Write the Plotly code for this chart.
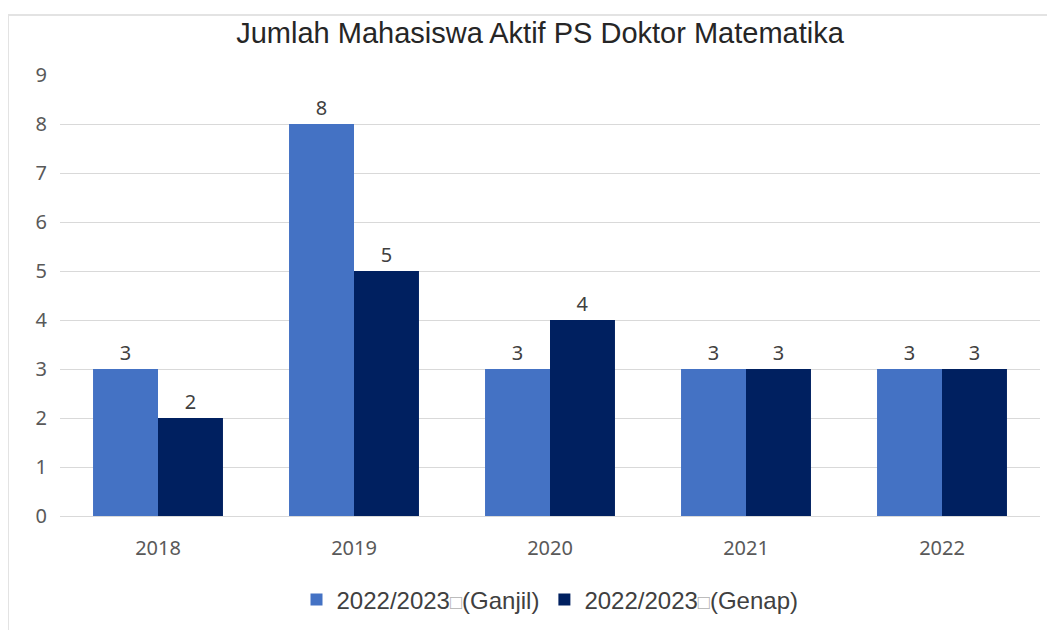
import plotly.graph_objects as go

years = ["2018", "2019", "2020", "2021", "2022"]
ganjil = [3, 8, 3, 3, 3]
genap = [2, 5, 4, 3, 3]
box = "<span style='fill:#b0b0b0;color:#b0b0b0;font-size:20px'>\u25a1</span>"
series_names = ["2022/2023" + box + "(Ganjil)", "2022/2023" + box + "(Genap)"]
colors = ["#4472C4", "#002060"]
title = "Jumlah Mahasiswa Aktif PS Doktor Matematika"

fig = go.Figure()
for name, vals, c in zip(series_names, [ganjil, genap], colors):
    fig.add_trace(go.Bar(
        x=years, y=vals, name=name, marker=dict(color=c, line=dict(width=0)),
        text=vals, textposition="outside", cliponaxis=False,
        textfont=dict(family="Noto Sans", size=20, color="#404040"),
    ))

fig.update_layout(
    width=1055, height=630,
    margin=dict(l=52, r=23, t=67, b=122),
    paper_bgcolor="white", plot_bgcolor="white",
    barmode="group", bargap=0.337, bargroupgap=0,
    title=dict(text=title, x=0.5 - 10 / 980, xref="paper", xanchor="center",
               y=1 - 25 / 630, yanchor="middle",
               font=dict(family="Liberation Sans, Arial", size=29, color="#262626")),
    legend=dict(orientation="h", x=0.5, xanchor="center", y=-0.19, yanchor="middle",
                font=dict(family="Liberation Sans, Arial", size=24, color="#404040"),
                itemwidth=30, traceorder="normal"),
    xaxis=dict(showline=True, linecolor="#d9d9d9", linewidth=1, ticks="",
               tickfont=dict(family="Noto Sans", size=20, color="#595959"),
               ticklabelstandoff=14),
    yaxis=dict(range=[0, 9], dtick=1, showgrid=True, gridcolor="#d9d9d9", gridwidth=1,
               zeroline=False, ticks="",
               tickfont=dict(family="Noto Sans", size=20, color="#595959"),
               ticklabelstandoff=12),
    showlegend=True,
)

# outer frame lines (left and top)
fig.add_shape(type="line", xref="paper", yref="paper",
              x0=(8 - 60) / 980, x1=(8 - 60) / 980, y0=(516 - 15) / 441, y1=(516 - 640) / 441,
              line=dict(color="#e3e3e3", width=2))
fig.add_shape(type="line", xref="paper", yref="paper",
              x0=(8 - 60) / 980, x1=(1060 - 60) / 980, y0=(516 - 15) / 441, y1=(516 - 15) / 441,
              line=dict(color="#e3e3e3", width=2))

fig.write_html("out.html")
